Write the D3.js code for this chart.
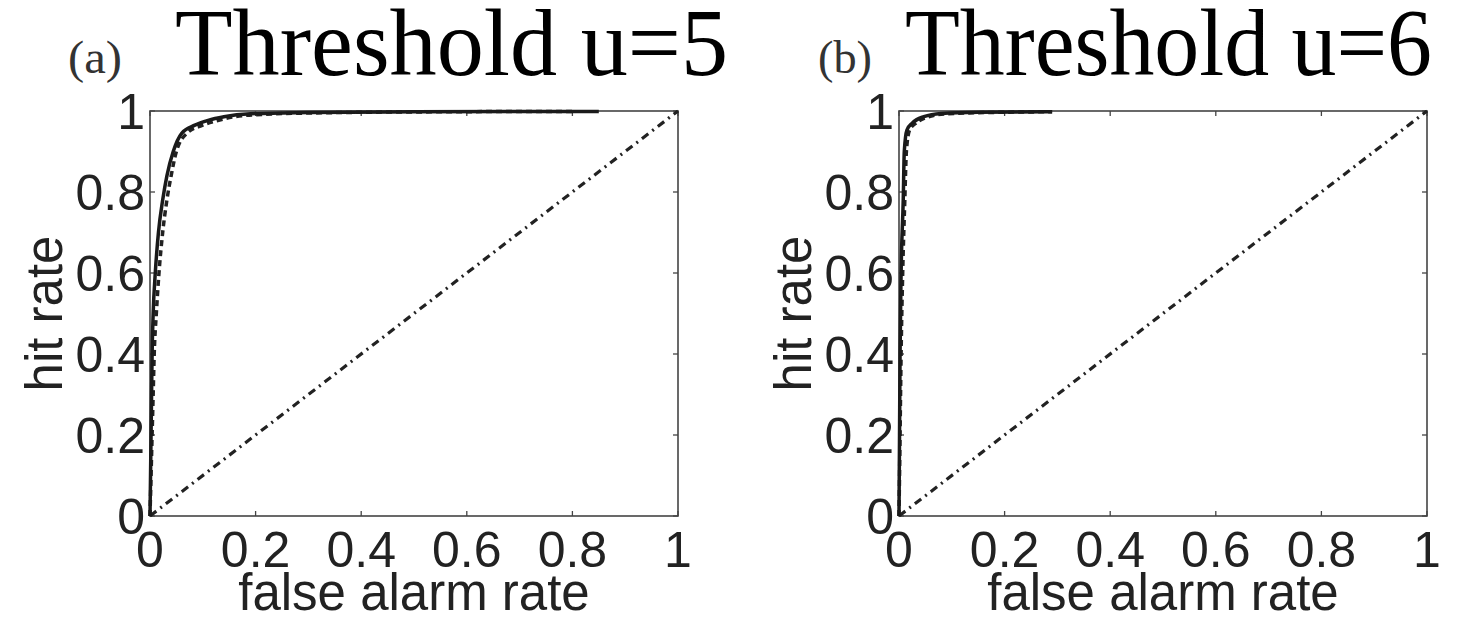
<!DOCTYPE html>
<html lang="en">
<head>
<meta charset="utf-8">
<script src="https://d3js.org/d3.v7.min.js"></script>
<style>
  body { margin: 0; background: #fff; }
  svg { display: block; }
</style>
</head>
<body>
<svg id="chart" width="1469" height="617"></svg>
<script>
// ROC data (false alarm rate, hit rate)
var fprA1 = [0, 0.001, 0.002, 0.003, 0.004, 0.006, 0.01, 0.016, 0.024, 0.032, 0.044, 0.06, 0.085, 0.11, 0.14, 0.19, 0.3, 0.5, 0.7, 0.85];
var hitA1 = [0, 0.1, 0.2, 0.3, 0.4, 0.5, 0.6, 0.7, 0.78, 0.84, 0.9, 0.945, 0.965, 0.977, 0.986, 0.993, 0.996, 0.998, 0.999, 0.999];
var fprA2 = [0, 0.002, 0.004, 0.006, 0.008, 0.012, 0.017, 0.024, 0.032, 0.04, 0.05, 0.07, 0.1, 0.13, 0.16, 0.22, 0.35, 0.55, 0.8];
var hitA2 = [0, 0.1, 0.2, 0.3, 0.4, 0.5, 0.6, 0.7, 0.78, 0.84, 0.9, 0.945, 0.965, 0.977, 0.986, 0.992, 0.996, 0.998, 0.999];

var fprB1 = [0, 0.001, 0.002, 0.004, 0.008, 0.01, 0.015, 0.025, 0.047, 0.08, 0.15, 0.29];
var hitB1 = [0, 0.2, 0.4, 0.6, 0.78, 0.9, 0.953, 0.97, 0.986, 0.994, 0.997, 0.998];
var fprB2 = [0, 0.002, 0.004, 0.007, 0.011, 0.014, 0.02, 0.032, 0.055, 0.09, 0.2, 0.29];
var hitB2 = [0, 0.2, 0.4, 0.6, 0.78, 0.9, 0.953, 0.97, 0.985, 0.993, 0.997, 0.998];

var chance = [0, 1];
var ticks = [0, 0.2, 0.4, 0.6, 0.8, 1];
var tickLabels = ["0", "0.2", "0.4", "0.6", "0.8", "1"];

var panels = [
  { tag: "(a)", title: "Threshold u=5", left: 150, fpr1: fprA1, hit1: hitA1, fpr2: fprA2, hit2: hitA2, tagX: 68, titleX: 175, titleW: 553 },
  { tag: "(b)", title: "Threshold u=6", left: 899, fpr1: fprB1, hit1: hitB1, fpr2: fprB2, hit2: hitB2, tagX: 818, titleX: 905, titleW: 527 }
];

var svg = d3.select("#chart");
var plotTop = 111, plotBottom = 516, plotW = 528;
var sans = "'Liberation Sans', Arial, Helvetica, sans-serif";
var serif = "'Liberation Serif', 'Times New Roman', serif";

panels.forEach(function(p) {
  var x = d3.scaleLinear().domain([0, 1]).range([p.left, p.left + plotW]);
  var y = d3.scaleLinear().domain([0, 1]).range([plotBottom, plotTop]);
  var g = svg.append("g");

  // titles
  g.append("text")
    .attr("x", p.tagX).attr("y", 73)
    .attr("font-family", serif).attr("font-size", 46).attr("fill", "#333")
    .attr("textLength", 54).attr("lengthAdjust", "spacingAndGlyphs")
    .text(p.tag);
  g.append("text")
    .attr("x", p.titleX).attr("y", 75)
    .attr("font-family", serif).attr("font-size", 96).attr("fill", "#000")
    .attr("textLength", p.titleW).attr("lengthAdjust", "spacingAndGlyphs")
    .text(p.title);

  // box
  g.append("rect")
    .attr("x", x(0)).attr("y", y(1))
    .attr("width", x(1) - x(0)).attr("height", y(0) - y(1))
    .attr("fill", "none").attr("stroke", "#444").attr("stroke-width", 1.6);

  // inward ticks on all four sides
  var tl = 5;
  ticks.forEach(function(t) {
    g.append("line").attr("x1", x(t)).attr("x2", x(t)).attr("y1", y(0)).attr("y2", y(0) - tl)
      .attr("stroke", "#444").attr("stroke-width", 1.3);
    g.append("line").attr("x1", x(t)).attr("x2", x(t)).attr("y1", y(1)).attr("y2", y(1) + tl)
      .attr("stroke", "#444").attr("stroke-width", 1.3);
    g.append("line").attr("y1", y(t)).attr("y2", y(t)).attr("x1", x(0)).attr("x2", x(0) + tl)
      .attr("stroke", "#444").attr("stroke-width", 1.3);
    g.append("line").attr("y1", y(t)).attr("y2", y(t)).attr("x1", x(1)).attr("x2", x(1) - tl)
      .attr("stroke", "#444").attr("stroke-width", 1.3);
  });

  // tick labels
  g.selectAll(".xl").data(ticks).enter().append("text")
    .attr("x", function(d) { return x(d); }).attr("y", 567)
    .attr("text-anchor", "middle")
    .attr("font-family", sans).attr("font-size", 50).attr("fill", "#222")
    .text(function(d, i) { return tickLabels[i]; });
  g.selectAll(".yl").data(ticks).enter().append("text")
    .attr("x", p.left - 5).attr("y", function(d) { return y(d) + 18; })
    .attr("text-anchor", "end")
    .attr("font-family", sans).attr("font-size", 50).attr("fill", "#222")
    .text(function(d, i) { return tickLabels[i]; });

  // axis labels
  g.append("text")
    .attr("x", x(0.5)).attr("y", 610)
    .attr("text-anchor", "middle")
    .attr("font-family", sans).attr("font-size", 51).attr("fill", "#222")
    .text("false alarm rate");
  g.append("text")
    .attr("transform", "translate(" + (p.left - 88) + "," + y(0.5) + ") rotate(-90)")
    .attr("text-anchor", "middle")
    .attr("font-family", sans).attr("font-size", 51).attr("fill", "#222")
    .text("hit rate");

  var line = d3.line()
    .x(function(d) { return x(d[0]); })
    .y(function(d) { return y(d[1]); })
    .curve(d3.curveMonotoneX);

  // chance diagonal
  g.append("path")
    .attr("d", line(d3.zip(chance, chance)))
    .attr("fill", "none").attr("stroke", "#222").attr("stroke-width", 3.2)
    .attr("stroke-dasharray", "8,5,2,5");

  // dashed ROC
  g.append("path")
    .attr("d", line(d3.zip(p.fpr2, p.hit2)))
    .attr("fill", "none").attr("stroke", "#222").attr("stroke-width", 3.5)
    .attr("stroke-dasharray", "6,4");

  // solid ROC
  g.append("path")
    .attr("d", line(d3.zip(p.fpr1, p.hit1)))
    .attr("fill", "none").attr("stroke", "#1a1a1a").attr("stroke-width", 3.5);
});
</script>
</body>
</html>
